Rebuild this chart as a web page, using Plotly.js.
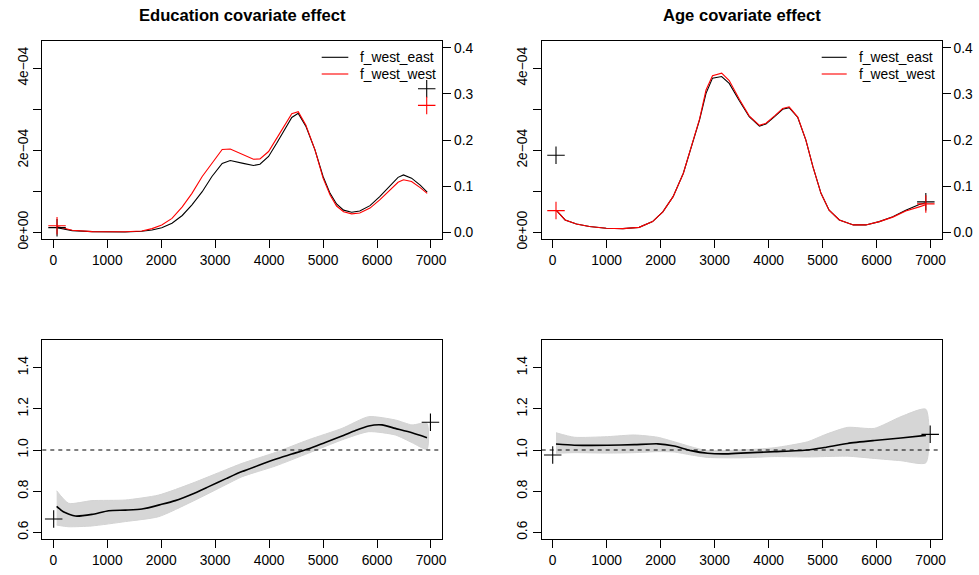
<!DOCTYPE html>
<html>
<head>
<meta charset="utf-8">
<script src="https://cdn.plot.ly/plotly-3.0.1.min.js"></script>
<style>html,body{margin:0;padding:0;background:#fff;}#chart{width:979px;height:575px;}</style>
</head>
<body>
<div id="chart"></div>
<script>
// ---------- data ----------
// Top-left: education covariate densities (units of 1e-4)
const eduX = [70, 350, 720, 1030, 1330, 1640, 1830, 2010, 2200, 2390, 2570, 2760, 2940, 3130, 3280, 3520, 3710, 3830, 3990, 4140, 4290, 4420, 4540, 4680, 4850, 5000, 5130, 5250, 5380, 5530, 5680, 5870, 6050, 6240, 6390, 6490, 6640, 6800, 6930];
const eduEastE4 = [0.11, 0.04, 0.015, 0.007, 0.007, 0.024, 0.056, 0.11, 0.22, 0.41, 0.67, 0.99, 1.36, 1.68, 1.75, 1.68, 1.63, 1.66, 1.85, 2.17, 2.50, 2.80, 2.90, 2.59, 2.01, 1.36, 0.95, 0.69, 0.54, 0.49, 0.52, 0.65, 0.87, 1.14, 1.34, 1.40, 1.32, 1.15, 0.98];
const eduWestE4 = [0.14, 0.05, 0.015, 0.01, 0.012, 0.03, 0.09, 0.18, 0.34, 0.62, 0.95, 1.36, 1.68, 2.02, 2.03, 1.90, 1.78, 1.79, 1.97, 2.29, 2.62, 2.89, 2.94, 2.62, 2.01, 1.32, 0.91, 0.64, 0.50, 0.45, 0.47, 0.59, 0.79, 1.03, 1.22, 1.28, 1.24, 1.09, 0.95];
const eduCrossX = [69, 6921];
const eduCrossEast = [0.010, 0.311];
const eduCrossWest = [0.0143, 0.275];

// Top-right: age covariate densities (units of 1e-4)
const ageX = [72, 230, 440, 680, 990, 1300, 1600, 1850, 2040, 2230, 2420, 2600, 2720, 2840, 2960, 3130, 3270, 3460, 3640, 3830, 3950, 4110, 4260, 4380, 4540, 4690, 4820, 4970, 5120, 5310, 5570, 5800, 6050, 6300, 6540, 6790, 6910];
const ageEastE4 = [0.53, 0.30, 0.20, 0.14, 0.10, 0.09, 0.12, 0.26, 0.50, 0.87, 1.44, 2.25, 2.74, 3.39, 3.76, 3.80, 3.63, 3.20, 2.82, 2.59, 2.64, 2.82, 3.00, 3.04, 2.80, 2.25, 1.60, 0.95, 0.54, 0.30, 0.18, 0.18, 0.26, 0.38, 0.54, 0.68, 0.72];
const ageWestE4 = [0.53, 0.30, 0.20, 0.14, 0.10, 0.09, 0.12, 0.26, 0.50, 0.87, 1.44, 2.25, 2.76, 3.47, 3.82, 3.88, 3.70, 3.24, 2.84, 2.61, 2.66, 2.84, 3.02, 3.06, 2.81, 2.25, 1.60, 0.95, 0.54, 0.30, 0.18, 0.18, 0.26, 0.37, 0.52, 0.62, 0.67];
const ageCrossX = [61, 6912];
const ageCrossEast = [0.167, 0.066];
const ageCrossWest = [0.047, 0.0615];

// Bottom-left: education ratio, mean curve and band of resampled curves
const eduRatioX = [62, 185, 408, 717, 1026, 1334, 1644, 2008, 2261, 2570, 2880, 3213, 3497, 3810, 4115, 4420, 4733, 5040, 5350, 5600, 5845, 6092, 6338, 6648, 6926];
const eduRatio = [0.726, 0.700, 0.679, 0.687, 0.705, 0.708, 0.713, 0.736, 0.754, 0.785, 0.822, 0.862, 0.895, 0.926, 0.955, 0.980, 1.006, 1.037, 1.068, 1.095, 1.117, 1.122, 1.105, 1.084, 1.060];
const eduBandX = [62, 285, 717, 1334, 1953, 2570, 3188, 3497, 4115, 4733, 5350, 5845, 6338, 6648, 6926];
const eduBandUpper = [0.802, 0.741, 0.754, 0.757, 0.781, 0.838, 0.903, 0.935, 0.988, 1.050, 1.105, 1.162, 1.146, 1.122, 1.130];
const eduBandLower = [0.635, 0.627, 0.631, 0.652, 0.676, 0.749, 0.830, 0.870, 0.922, 0.985, 1.049, 1.089, 1.073, 1.036, 1.003];
const eduRatioCrossX = [7, 6990];
const eduRatioCrossY = [0.665, 1.135];

// Bottom-right: age ratio
const ageRatioX = [61, 400, 1018, 1512, 1944, 2252, 2561, 2870, 3180, 3487, 4104, 4722, 5030, 5463, 5957, 6450, 6913];
const ageRatio = [1.029, 1.023, 1.023, 1.026, 1.030, 1.019, 0.997, 0.984, 0.981, 0.985, 0.992, 1.000, 1.012, 1.032, 1.046, 1.058, 1.071];
const ageBandX = [61, 400, 1018, 1512, 1944, 2252, 2561, 2870, 3487, 4104, 4722, 5030, 5463, 5957, 6450, 6913];
const ageBandUpper = [1.084, 1.062, 1.065, 1.073, 1.062, 1.040, 1.016, 0.997, 1.000, 1.011, 1.040, 1.073, 1.110, 1.105, 1.162, 1.198];
const ageBandLower = [0.984, 0.987, 0.985, 0.987, 0.992, 0.990, 0.976, 0.964, 0.962, 0.968, 0.966, 0.968, 0.970, 0.959, 0.948, 0.938];
const ageRatioCrossX = [0, 6993];
const ageRatioCrossY = [0.976, 1.076];

const xTicks = [0, 1000, 2000, 3000, 4000, 5000, 6000, 7000];
const densTickVals = [0, 1e-4, 2e-4, 3e-4, 4e-4];
const densTickText = ['0e+00', '', '2e\u221204', '', '4e\u221204'];
const probTicks = [0.0, 0.1, 0.2, 0.3, 0.4];
const probTickText = ['0.0', '0.1', '0.2', '0.3', '0.4'];
const ratioTicks = [0.6, 0.8, 1.0, 1.2, 1.4];
const ratioTickText = ['0.6', '0.8', '1.0', '1.2', '1.4'];
const seriesNames = ['f_west_east', 'f_west_west'];
const panelTitles = ['Education covariate effect', 'Age covariate effect'];

// ---------- layout helpers ----------
const W = 979, H = 575;
const FONT = 'Liberation Sans, Arial, Helvetica, sans-serif';
const px = v => v / W;
const py = v => 1 - v / H;
const scale = (a, k) => a.map(v => v * k);

const baseAxis = {
  showline: true, linecolor: '#000', linewidth: 1, mirror: true,
  ticks: 'outside', ticklen: 8, tickwidth: 1, tickcolor: '#000',
  showgrid: false, zeroline: false,
  tickfont: { family: FONT, size: 13.8, color: '#000' }
};
function xax(dom, anchor, range) {
  return Object.assign({}, baseAxis, { domain: dom, anchor: anchor, range: range, tickmode: 'array', tickvals: xTicks, ticktext: xTicks.map(String) });
}
function yax(dom, anchor, range, vals, text) {
  return Object.assign({}, baseAxis, { domain: dom, anchor: anchor, range: range, tickmode: 'array', tickvals: vals, ticktext: text, tickangle: -90 });
}
function yRight(overlay, anchor, range) {
  return Object.assign({}, baseAxis, { overlaying: overlay, anchor: anchor, side: 'right', range: range, mirror: false, tickmode: 'array', tickvals: probTicks, ticktext: probTickText });
}

const xL = [px(42.3), px(442.3)], xR = [px(541.7), px(941.7)];
const yT = [py(239.3), py(40.7)], yB = [py(539.3), py(340)];
const xRangeL = [-204, 7210], xRangeR = [-204, 7206];
const densRange = [-0.171e-4, 4.673e-4];
const probRange = [-0.0152, 0.4152];
const ratioRange = [0.566, 1.5346];

const traces = [];
function densLines(x, east, west, xa, ya) {
  traces.push({ x: x, y: scale(east, 1e-4), xaxis: xa, yaxis: ya, mode: 'lines', name: seriesNames[0], line: { color: '#000', width: 1.1 }, showlegend: false });
  traces.push({ x: x, y: scale(west, 1e-4), xaxis: xa, yaxis: ya, mode: 'lines', name: seriesNames[1], line: { color: '#ff0000', width: 1.1 }, showlegend: false });
}
function crosses(x, y, color, xa, ya) {
  traces.push({ x: x, y: y, xaxis: xa, yaxis: ya, mode: 'markers', showlegend: false,
    marker: { symbol: 'cross-thin', size: 12.5, color: color, line: { width: 1.1, color: color } } });
}
function band(bx, up, lo, mx, my, xa, ya) {
  traces.push({ x: bx.concat(bx.slice().reverse()), y: up.concat(lo.slice().reverse()), xaxis: xa, yaxis: ya,
    mode: 'lines', fill: 'toself', fillcolor: '#d6d6d6', line: { color: '#d3d3d3', width: 1, shape: 'spline', smoothing: 0.6 }, showlegend: false });
  traces.push({ x: mx, y: my, xaxis: xa, yaxis: ya, mode: 'lines', line: { color: '#000', width: 1.6, shape: 'spline', smoothing: 0.6 }, showlegend: false });
}

// Top-left
densLines(eduX, eduEastE4, eduWestE4, 'x', 'y');
crosses(eduCrossX, eduCrossEast, '#000', 'x', 'y2');
crosses(eduCrossX, eduCrossWest, '#ff0000', 'x', 'y2');
// Top-right
densLines(ageX, ageEastE4, ageWestE4, 'x2', 'y3');
crosses(ageCrossX, ageCrossEast, '#000', 'x2', 'y4');
crosses(ageCrossX, ageCrossWest, '#ff0000', 'x2', 'y4');
// Bottom-left
band(eduBandX, eduBandUpper, eduBandLower, eduRatioX, eduRatio, 'x3', 'y5');
crosses(eduRatioCrossX, eduRatioCrossY, '#000', 'x3', 'y5');
// Bottom-right
band(ageBandX, ageBandUpper, ageBandLower, ageRatioX, ageRatio, 'x4', 'y6');
crosses(ageRatioCrossX, ageRatioCrossY, '#000', 'x4', 'y6');

// Legends (drawn as shapes + text) and titles
const shapes = [];
const annotations = [];
function legendAt(lineX0, lineX1, textX) {
  const rows = [57.3, 74.0], cols = ['#000', '#ff0000'];
  rows.forEach((ry, i) => {
    shapes.push({ type: 'line', xref: 'paper', yref: 'paper', x0: px(lineX0), x1: px(lineX1), y0: py(ry), y1: py(ry), line: { color: cols[i], width: 1.1 } });
    annotations.push({ xref: 'paper', yref: 'paper', x: px(textX), y: py(ry), xanchor: 'left', yanchor: 'middle', showarrow: false,
      text: seriesNames[i], font: { family: FONT, size: 13.8, color: '#000' } });
  });
}
legendAt(321.7, 348.3, 358.3);
legendAt(821.7, 846.7, 857.3);
annotations.push({ xref: 'paper', yref: 'paper', x: (xL[0] + xL[1]) / 2, y: py(15.7), xanchor: 'center', yanchor: 'middle', showarrow: false,
  text: '<b>' + panelTitles[0] + '</b>', font: { family: FONT, size: 16.6, color: '#000' } });
annotations.push({ xref: 'paper', yref: 'paper', x: (xR[0] + xR[1]) / 2, y: py(15.7), xanchor: 'center', yanchor: 'middle', showarrow: false,
  text: '<b>' + panelTitles[1] + '</b>', font: { family: FONT, size: 16.6, color: '#000' } });

// reference lines at ratio 1
shapes.push({ type: 'line', xref: 'x3 domain', yref: 'y5', x0: 0, x1: 1, y0: 1, y1: 1, line: { color: '#000', width: 1, dash: '4px,4px' } });
shapes.push({ type: 'line', xref: 'x4 domain', yref: 'y6', x0: 0, x1: 1, y0: 1, y1: 1, line: { color: '#000', width: 1, dash: '4px,4px' } });

const layout = {
  width: W, height: H,
  margin: { l: 0, r: 0, t: 0, b: 0 },
  paper_bgcolor: '#fff', plot_bgcolor: '#fff',
  showlegend: false,
  font: { family: FONT, color: '#000' },
  xaxis: xax(xL, 'y', xRangeL),
  yaxis: yax(yT, 'x', densRange, densTickVals, densTickText),
  yaxis2: yRight('y', 'x', probRange),
  xaxis2: xax(xR, 'y3', xRangeR),
  yaxis3: yax(yT, 'x2', densRange, densTickVals, densTickText),
  yaxis4: yRight('y3', 'x2', probRange),
  xaxis3: xax(xL, 'y5', xRangeL),
  yaxis5: yax(yB, 'x3', ratioRange, ratioTicks, ratioTickText),
  xaxis4: xax(xR, 'y6', xRangeR),
  yaxis6: yax(yB, 'x4', ratioRange, ratioTicks, ratioTickText),
  shapes: shapes,
  annotations: annotations
};

Plotly.newPlot('chart', traces, layout, { staticPlot: true, displayModeBar: false });
</script>
</body>
</html>
